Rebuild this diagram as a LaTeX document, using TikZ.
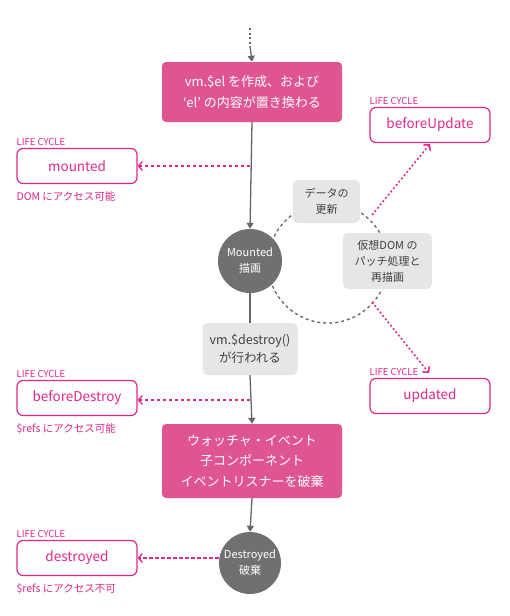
\documentclass[tikz,border=0pt]{standalone}
\usepackage{fontspec}
\setmainfont{Noto Sans CJK JP}
\usetikzlibrary{arrows.meta}
\definecolor{pinkfill}{HTML}{DF5591}
\definecolor{pinkline}{HTML}{E0288A}
\definecolor{circgray}{HTML}{707070}
\definecolor{boxgray}{HTML}{E6E6E6}
\definecolor{linegray}{HTML}{666666}
\tikzset{
  pinkbox/.style={draw=none, fill=pinkfill, rounded corners=4pt, minimum width=180pt, inner sep=0pt, text=white, align=center, font=\fontsize{13}{20.5}\selectfont},
  graybox/.style={fill=boxgray, rounded corners=5pt, inner sep=0pt, text=black!75, align=center, font=\fontsize{11}{16}\selectfont},
  statecirc/.style={circle, fill=circgray, inner sep=0pt, text=white, align=center, font=\fontsize{11}{16}\selectfont},
  lcbox/.style={draw=pinkline, line width=1.2pt, rounded corners=6pt, minimum width=120pt, minimum height=35pt, inner sep=0pt, text=pinkline, font=\fontsize{13.5}{16}\selectfont},
  lclabel/.style={text=pinkline, inner sep=0pt, anchor=south west, font=\fontsize{9.5}{11}\selectfont},
  lcnote/.style={text=pinkline, inner sep=0pt, anchor=north west, font=\fontsize{10.5}{12}\selectfont},
  garrow/.style={draw=linegray, line width=1.3pt, -{Triangle[width=7pt,length=6pt]}},
  gline/.style={draw=linegray, line width=1.3pt},
  parrow/.style={draw=pinkline, line width=1.3pt, dash pattern=on 3.5pt off 2.5pt, -{Straight Barb[length=4pt,width=9pt]}},
  pdiag/.style={draw=pinkline, line width=1.5pt, dash pattern=on 2pt off 2.2pt, -{Straight Barb[length=4pt,width=9pt]}},
}
\begin{document}
\begin{tikzpicture}[x=1pt,y=-1pt]
\useasboundingbox (0,0) rectangle (509,616);
\fill[white] (0,0) rectangle (509,616);

% dashed update cycle
\draw[linegray, line width=1.3pt, dash pattern=on 3pt off 3pt] (328,263) circle[radius=60];

% main column
\coordinate (top) at (250,28);
\coordinate (topmid) at (250,46);
\node[pinkbox, minimum height=60pt] (create) at (252,92) {vm.\$el を作成、および\\‘el’ の内容が置き換わる};
\node[statecirc, minimum size=64pt] (mnt) at (250,261) {Mounted\\描画};
\node[graybox, minimum width=95pt, minimum height=52pt, font=\fontsize{12.5}{18}\selectfont] (dstr) at (250,349) {vm.\$destroy()\\が行われる};
\node[pinkbox, minimum height=74pt] (teardown) at (252,461) {ウォッチャ・イベント\\子コンポーネント\\イベントリスナーを破棄};
\node[statecirc, minimum size=62pt] (dsd) at (250,563) {Destroyed\\破棄};

% update boxes
\node[graybox, minimum width=67pt, minimum height=43pt] (data) at (326.5,201.5) {データの\\更新};
\node[graybox, minimum width=89pt, minimum height=56pt] (vdom) at (387.5,261) {仮想DOM の\\パッチ処理と\\再描画};

% lifecycle boxes
\node[lcbox] (lcmounted) at (77,166) {mounted};
\node[lclabel] (lab1) at (lcmounted.north west) [yshift=2pt] {LIFE CYCLE};
\node[lcnote] (note1) at ([yshift=-7pt]lcmounted.south west) {DOM にアクセス可能};

\node[lcbox] (lcbu) at (430,125) {beforeUpdate};
\node[lclabel] (lab2) at (lcbu.north west) [yshift=2pt] {LIFE CYCLE};

\node[lcbox] (lcbd) at (77,398) {beforeDestroy};
\node[lclabel] (lab3) at (lcbd.north west) [yshift=2pt] {LIFE CYCLE};
\node[lcnote] (note3) at ([yshift=-7pt]lcbd.south west) {\$refs にアクセス可能};

\node[lcbox] (lcup) at (430,396) {updated};
\node[lclabel] (lab4) at (lcup.north west) [yshift=2pt] {LIFE CYCLE};

\node[lcbox] (lcds) at (77,558) {destroyed};
\node[lclabel] (lab5) at (lcds.north west) [yshift=2pt] {LIFE CYCLE};
\node[lcnote] (note5) at ([yshift=-7pt]lcds.south west) {\$refs にアクセス不可};

% gray connectors
\draw[gline, dash pattern=on 2pt off 2.5pt] (top) -- (topmid);
\draw[garrow] (topmid) -- (create.north);
\draw[garrow] (create.south) -- (mnt.north);
\draw[gline] (mnt.south) -- (dstr.north);
\draw[garrow] (dstr.south) -- (teardown.north);
\draw[garrow] (teardown.south) -- (dsd.north);

% pink connectors
\coordinate (m1) at (250,166);
\coordinate (m3) at (250,400);
\coordinate (u1) at (372,215);
\coordinate (u2) at (372,302);
\coordinate (u1end) at (430,144);
\coordinate (u2end) at (429,373);
\draw[parrow] (m1) -- (lcmounted.east);
\draw[parrow] (m3) -- (lcbd.east |- m3);
\draw[parrow] (dsd.west |- lcds.east) -- (lcds.east);
\draw[pdiag] (u1) -- (u1end);
\draw[pdiag] (u2) -- (u2end);
\end{tikzpicture}
\end{document}
